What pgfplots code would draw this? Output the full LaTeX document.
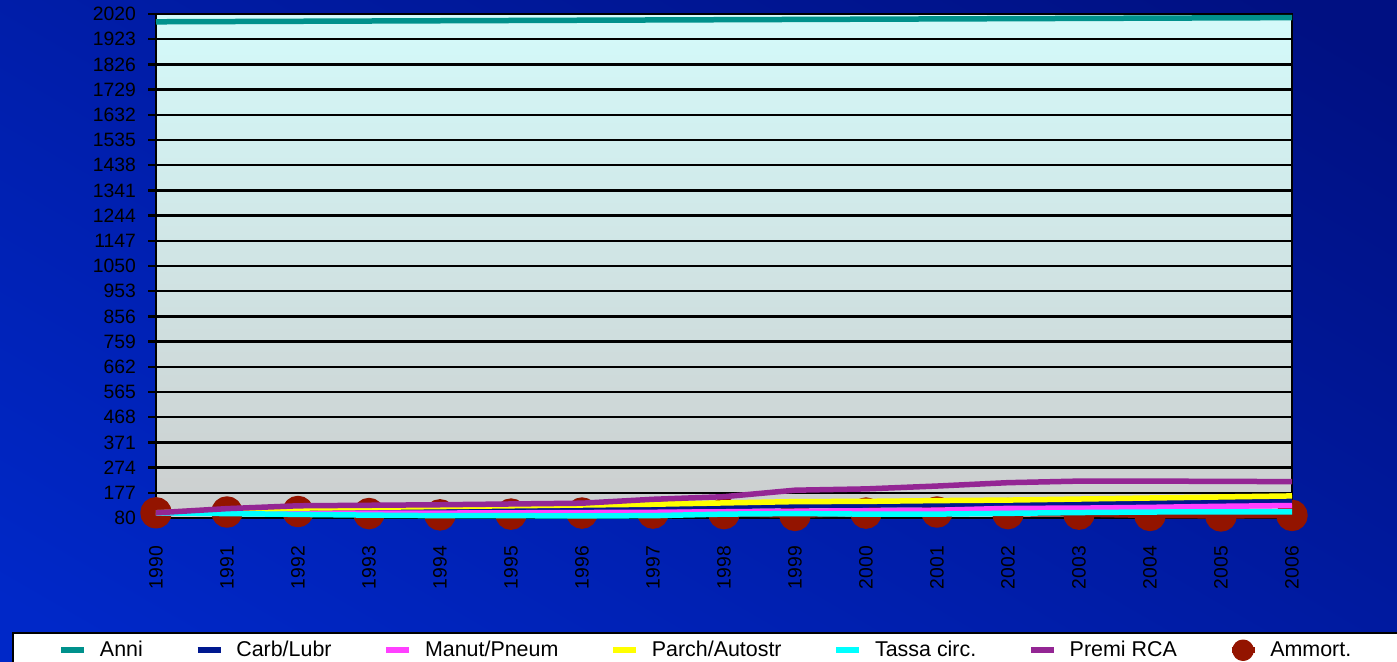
\documentclass[border=0pt]{standalone}
\usepackage{pgfplots}
\pgfplotsset{compat=1.18}
\usepackage{fontspec}
\setmainfont{Liberation Sans}

\definecolor{anni}{RGB}{0,145,140}
\definecolor{carb}{RGB}{0,24,143}
\definecolor{manut}{RGB}{255,64,255}
\definecolor{parch}{RGB}{255,255,0}
\definecolor{tassa}{RGB}{0,255,255}
\definecolor{premi}{RGB}{148,38,148}
\definecolor{ammort}{RGB}{147,20,0}
\definecolor{bgtop}{RGB}{0,16,130}
\definecolor{bgbot}{RGB}{0,40,200}
\definecolor{plottop}{RGB}{212,250,250}
\definecolor{plotbot}{RGB}{204,206,206}

\begin{document}
\begin{tikzpicture}
\useasboundingbox (0,0) rectangle (698.5bp,331bp);
\clip (0,0) rectangle (698.5bp,331bp);
\shade[top color=bgtop, bottom color=bgbot, shading angle=-30] (-60bp,-60bp) rectangle (760bp,390bp);
\begin{axis}[
  at={(78bp,72bp)}, anchor=south west,
  scale only axis, width=568bp, height=252bp,
  xmin=1990, xmax=2006, ymin=80, ymax=2020,
  xtick={1990,1991,1992,1993,1994,1995,1996,1997,1998,1999,2000,2001,2002,2003,2004,2005,2006},
  ytick={80,177,274,371,468,565,662,759,856,953,1050,1147,1244,1341,1438,1535,1632,1729,1826,1923,2020},
  ytick pos=left,
  clip=false, clip marker paths=true,
  axis background/.style={top color=plottop, bottom color=plotbot},
  axis line style={black, line width=1.2bp},
  ymajorgrids, major grid style={black, line width=1.2bp},
  xtick style={draw=none},
  ytick style={black, line width=1.2bp},
  tick align=outside, major tick length=4bp,
  tick label style={font=\fontsize{9.7}{11}\selectfont, black},
  /pgf/number format/assume math mode=true,
  /pgf/number format/1000 sep={},
  yticklabel style={xshift=-2.5bp},
  xticklabel style={rotate=90, anchor=east, xshift=-6.5bp},
  every axis plot/.append style={line width=2.75bp, line join=round},
  legend image code/.code={\draw[#1, mark repeat=2, mark phase=2] plot coordinates {(0bp,0bp) (5.75bp,0bp) (11.5bp,0bp)};},
  legend columns=7,
  legend style={at={(-0.12676,-0.22619)}, anchor=north west,
    draw=black, line width=1bp, fill=white,
    inner xsep=22.75bp, inner ysep=2bp,
    font=\fontsize{10.75}{12}\selectfont,
    /tikz/every odd column/.append style={column sep=4.5bp},
    /tikz/every even column/.append style={column sep=24bp}},
]
% depreciation series sits underneath the others
\addplot[ammort, mark=*, mark size=6.5bp, forget plot] coordinates {
(1990,100) (1991,103) (1992,105) (1993,97) (1994,92) (1995,95) (1996,99) (1997,99) (1998,97)
(1999,90) (2000,99) (2001,103) (2002,97) (2003,95) (2004,90) (2005,88) (2006,90)};

\addplot[anni, no marks] coordinates {
(1990,1990) (1991,1991) (1992,1992) (1993,1993) (1994,1994) (1995,1995) (1996,1996) (1997,1997) (1998,1998)
(1999,1999) (2000,2000) (2001,2001) (2002,2002) (2003,2003) (2004,2004) (2005,2005) (2006,2006)};
\addlegendentry{Anni}

\addplot[carb, no marks] coordinates {
(1990,100) (1991,106) (1992,110) (1993,110) (1994,113) (1995,115) (1996,118) (1997,121) (1998,125)
(1999,128) (2000,130) (2001,131) (2002,134) (2003,137) (2004,140) (2005,143) (2006,146)};
\addlegendentry{Carb/Lubr}

\addplot[manut, no marks] coordinates {
(1990,100) (1991,99) (1992,98) (1993,99) (1994,99) (1995,100) (1996,101) (1997,102) (1998,104)
(1999,106) (2000,108) (2001,110) (2002,117) (2003,118) (2004,121) (2005,125) (2006,128)};
\addlegendentry{Manut/Pneum}

\addplot[parch, no marks] coordinates {
(1990,100) (1991,110) (1992,118) (1993,121) (1994,124) (1995,127) (1996,130) (1997,133) (1998,138)
(1999,143) (2000,144) (2001,147) (2002,149) (2003,153) (2004,157) (2005,161) (2006,165)};
\addlegendentry{Parch/Autostr}

\addplot[tassa, no marks] coordinates {
(1990,100) (1991,97) (1992,94) (1993,91) (1994,89) (1995,89) (1996,88) (1997,89) (1998,95)
(1999,97) (2000,95) (2001,95) (2002,98) (2003,101) (2004,103) (2005,104) (2006,104)};
\addlegendentry{Tassa circ.}

\addplot[premi, no marks] coordinates {
(1990,100) (1991,116) (1992,127) (1993,129) (1994,131) (1995,134) (1996,137) (1997,152) (1998,162)
(1999,187) (2000,192) (2001,203) (2002,216) (2003,222) (2004,222) (2005,221) (2006,220)};
\addlegendentry{Premi RCA}

\addlegendimage{ammort, line width=2.75bp, mark=*, mark size=4bp}
\addlegendentry{Ammort.}
\end{axis}
\end{tikzpicture}
\end{document}
